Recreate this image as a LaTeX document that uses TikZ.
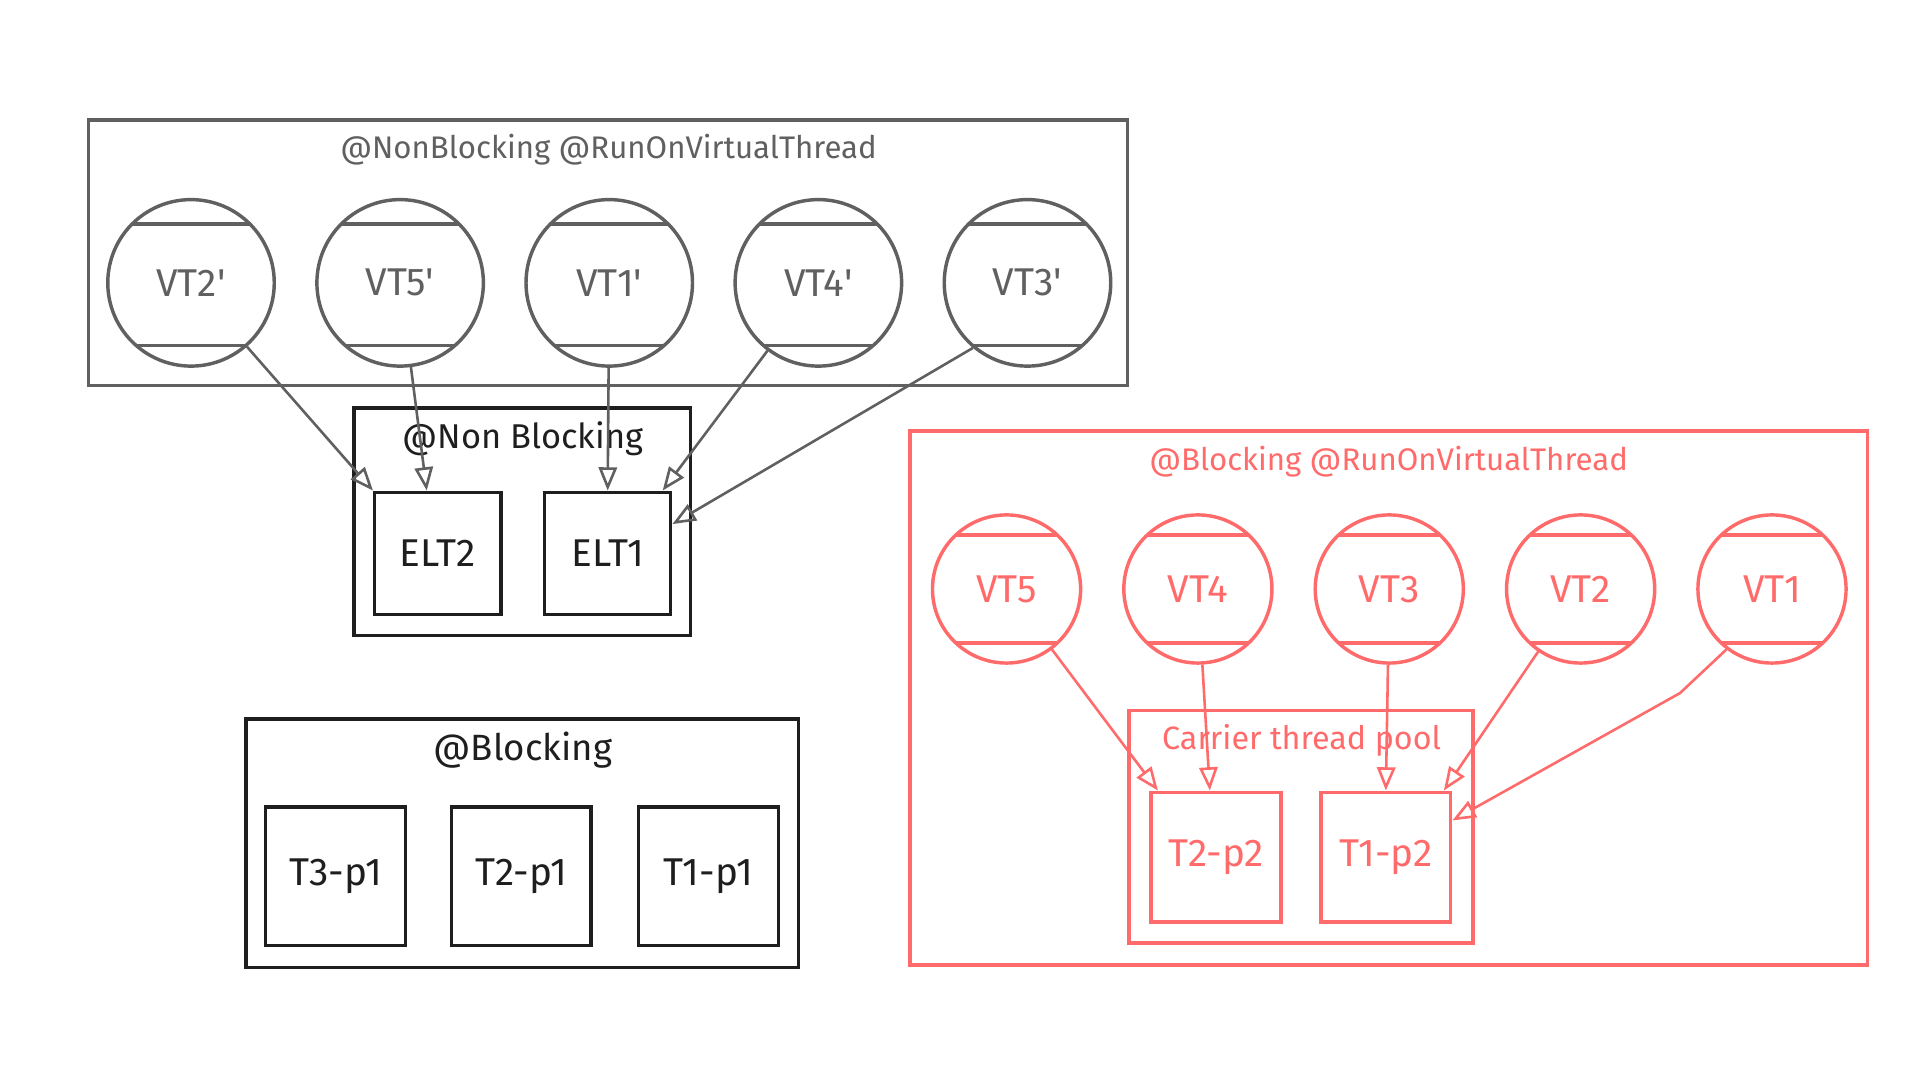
\documentclass[tikz,border=0pt]{standalone}
\usepackage{fontspec}
\setmainfont{Fira Sans}
\usetikzlibrary{positioning,arrows.meta}
\definecolor{SKETCH_GRAY}{HTML}{606060}
\definecolor{SKETCH_RED}{HTML}{FF6B6B}
\definecolor{SKETCH_BLACK}{HTML}{1E1E1E}
\tikzstyle{frame} = [rectangle, line width=1.6pt, inner sep=0pt]
\tikzstyle{gray_frame} = [frame, draw=SKETCH_GRAY, minimum width=16.98cm, minimum height=4.34cm]
\tikzstyle{red_frame} = [frame, draw=SKETCH_RED, minimum width=15.64cm, minimum height=8.72cm]
\tikzstyle{black_frame} = [frame, draw=SKETCH_BLACK]
\tikzstyle{title} = [font=\fontsize{14.5}{16}\selectfont]
\tikzstyle{thread} = [frame, font=\fontsize{18}{20}\selectfont]
\tikzstyle{elt} = [thread, draw=SKETCH_BLACK, text=SKETCH_BLACK, minimum width=2.06cm, minimum height=2cm]
\tikzstyle{pone} = [thread, draw=SKETCH_BLACK, text=SKETCH_BLACK, minimum width=2.28cm, minimum height=2.26cm]
\tikzstyle{ptwo} = [thread, draw=SKETCH_RED, text=SKETCH_RED, minimum width=2.12cm, minimum height=2.12cm]
\tikzstyle{vt_gray} = [circle, inner sep=0pt, line width=1.6pt, draw=SKETCH_GRAY, text=SKETCH_GRAY, minimum size=2.72cm, font=\fontsize{18}{20}\selectfont,
  path picture={\draw[SKETCH_GRAY, line width=1.6pt] ([yshift=0.96cm]path picture bounding box.west) -- ([yshift=0.96cm]path picture bounding box.east);
                \draw[SKETCH_GRAY, line width=1.6pt] ([yshift=-1.02cm]path picture bounding box.west) -- ([yshift=-1.02cm]path picture bounding box.east);}]
\tikzstyle{vt_red} = [circle, inner sep=0pt, line width=1.6pt, draw=SKETCH_RED, text=SKETCH_RED, minimum size=2.42cm, font=\fontsize{18}{20}\selectfont,
  path picture={\draw[SKETCH_RED, line width=1.6pt] ([yshift=0.88cm]path picture bounding box.west) -- ([yshift=0.88cm]path picture bounding box.east);
                \draw[SKETCH_RED, line width=1.6pt] ([yshift=-0.88cm]path picture bounding box.west) -- ([yshift=-0.88cm]path picture bounding box.east);}]
\tikzstyle{link_gray} = [draw=SKETCH_GRAY, line width=1.2pt, -{Triangle[open, length=0.38cm, width=0.3cm]}]
\tikzstyle{link_red} = [draw=SKETCH_RED, line width=1.2pt, -{Triangle[open, length=0.38cm, width=0.3cm]}]

\begin{document}
\begin{tikzpicture}[x=0.02cm, y=-0.02cm]
      \useasboundingbox[fill=white] (0,0) rectangle (1568,882);

      %%%%%%%%%%%%%%%%%%%%%%%%%%%%%%%%%%%%%%%%%%%%%%%%%
      % NON BLOCKING ON VIRTUAL THREADS
      %%%%%%%%%%%%%%%%%%%%%%%%%%%%%%%%%%%%%%%%%%%%%%%%%
      \node[gray_frame] (NBVT) at (496.5,206.5) {};
      \node[title, text=SKETCH_GRAY] (NBVTtitle) at (497,122) {@NonBlocking @RunOnVirtualThread};

      \node[vt_gray] (VT2p) at (156,231) {VT2\textquotesingle};
      \node[vt_gray, right=0.64cm of VT2p] (VT5p) {VT5\textquotesingle};
      \node[vt_gray, right=0.64cm of VT5p] (VT1p) {VT1\textquotesingle};
      \node[vt_gray, right=0.64cm of VT1p] (VT4p) {VT4\textquotesingle};
      \node[vt_gray, right=0.64cm of VT4p] (VT3p) {VT3\textquotesingle};

      % event loops
      \node[black_frame, minimum width=5.5cm, minimum height=3.72cm] (NB) at (426.5,426) {};
      \node[title, text=SKETCH_BLACK, font=\fontsize{16}{18}\selectfont] (NBtitle) at (427,358) {@Non Blocking};
      \node[elt] (ELT2) at (357.5,452) {ELT2};
      \node[elt, right=0.66cm of ELT2] (ELT1) {ELT1};

      \draw[link_gray] (VT2p) -- (ELT2.north west);
      \draw[link_gray] (VT5p) -- ([xshift=-0.18cm]ELT2.north);
      \draw[link_gray] (VT1p) -- (ELT1.north);
      \draw[link_gray] (VT4p) -- ([xshift=-0.16cm]ELT1.north east);
      \draw[link_gray] (VT3p.230) -- ([yshift=0.48cm]ELT1.east);

      %%%%%%%%%%%%%%%%%%%%%%%%%%%%%%%%%%%%%%%%%%%%%%%%%
      % BLOCKING ON WORKER THREADS
      %%%%%%%%%%%%%%%%%%%%%%%%%%%%%%%%%%%%%%%%%%%%%%%%%
      \node[black_frame, minimum width=9.02cm, minimum height=4.06cm] (BL) at (426.5,688.5) {};
      \node[title, text=SKETCH_BLACK, font=\fontsize{17}{19}\selectfont] (BLtitle) at (427,613) {@Blocking};
      \node[pone] (T3p1) at (274,715.5) {T3-p1};
      \node[pone, right=0.7cm of T3p1] (T2p1) {T2-p1};
      \node[pone, right=0.72cm of T2p1] (T1p1) {T1-p1};

      %%%%%%%%%%%%%%%%%%%%%%%%%%%%%%%%%%%%%%%%%%%%%%%%%
      % BLOCKING ON VIRTUAL THREADS
      %%%%%%%%%%%%%%%%%%%%%%%%%%%%%%%%%%%%%%%%%%%%%%%%%
      \node[red_frame] (BVT) at (1134,570) {};
      \node[title, text=SKETCH_RED] (BVTtitle) at (1134,377) {@Blocking @RunOnVirtualThread};

      \node[vt_red] (VT5) at (822,481) {VT5};
      \node[vt_red, right=0.65cm of VT5] (VT4) {VT4};
      \node[vt_red, right=0.65cm of VT4] (VT3) {VT3};
      \node[vt_red, right=0.65cm of VT3] (VT2) {VT2};
      \node[vt_red, right=0.65cm of VT2] (VT1) {VT1};

      % carriers
      \node[frame, draw=SKETCH_RED, minimum width=5.62cm, minimum height=3.8cm] (CTP) at (1062.5,675) {};
      \node[title, text=SKETCH_RED, font=\fontsize{15}{17}\selectfont] (CTPtitle) at (1063,605) {Carrier thread pool};
      \node[ptwo] (T2p2) at (993,700) {T2-p2};
      \node[ptwo, right=0.6cm of T2p2] (T1p2) {T1-p2};

      \coordinate (bend) at (1372,566);
      \draw[link_red] (VT5) -- ([xshift=0.14cm]T2p2.north west);
      \draw[link_red] (VT4) -- ([xshift=-0.1cm]T2p2.north);
      \draw[link_red] (VT3) -- (T1p2.north);
      \draw[link_red] (VT2) -- ([xshift=-0.14cm]T1p2.north east);
      \draw[link_red] (VT1.233) -- (bend) -- ([yshift=0.6cm]T1p2.east);
\end{tikzpicture}
\end{document}
